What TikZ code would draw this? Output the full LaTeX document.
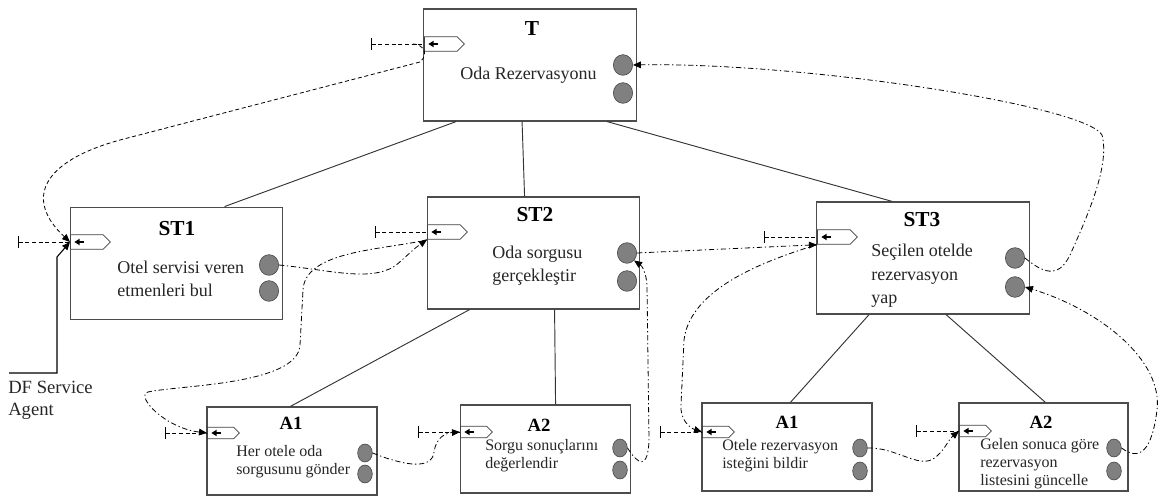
\documentclass[tikz,border=0pt]{standalone}
\usepackage{fontspec}
\setmainfont{Liberation Serif}
\usetikzlibrary{arrows.meta,positioning,shapes.geometric,shapes.symbols,calc}

\begin{document}
\begin{tikzpicture}[x=0.75pt, y=-0.75pt,
  box/.style={draw=black!70, line width=0.9pt, fill=white, inner sep=0pt},
  bigbox/.style={box, minimum width=159.5pt, minimum height=84.5pt},
  smallbox/.style={box, minimum width=127.5pt, minimum height=66pt},
  ttl/.style={font=\fontsize{16}{18}\selectfont\bfseries},
  sttl/.style={font=\fontsize{14}{16}\selectfont\bfseries},
  txt/.style={font=\fontsize{13.5}{17.5}\selectfont, align=left, anchor=west, inner sep=0pt, text=black!85},
  stxt/.style={font=\fontsize{12}{13.5}\selectfont, align=left, anchor=west, inner sep=0pt, text=black!85},
  outp/.style={ellipse, draw=black!75, fill=black!50, minimum width=14.5pt, minimum height=15.5pt, inner sep=0pt},
  soutp/.style={outp, minimum width=11pt, minimum height=13.5pt},
  port/.style={signal, signal to=east, signal from=nowhere, draw=black!75, fill=white, line width=0.6pt,
               minimum width=30pt, minimum height=11pt, inner sep=0pt, anchor=west,
               path picture={
                 \fill[black] ([xshift=3pt]path picture bounding box.west) -- ++(4pt,2.5pt) -- ++(0,-5pt) -- cycle;
                 \fill[black] ([xshift=6.5pt,yshift=-0.9pt]path picture bounding box.west) rectangle ++(4pt,1.8pt);}},
  sport/.style={port, minimum width=24pt, minimum height=8.5pt},
  tree/.style={draw=black!80, line width=0.7pt},
  tick/.style={dash pattern=on 3pt off 2pt, {Bar[width=9pt]}-, line width=0.7pt},
  req/.style={dash pattern=on 3pt off 2pt, line width=0.6pt, -{Triangle[length=6pt,width=5pt]}},
  msg/.style={dash pattern=on 4pt off 2pt on 1pt off 2pt, line width=0.6pt, -{Triangle[length=6pt,width=5pt]}},
  conn/.style={draw=black, line width=0.8pt, -{Triangle[length=6pt,width=5pt]}},
]
\useasboundingbox (0,0) rectangle (1163,498);

% --- Top task: T ---
\node[bigbox, minimum height=84pt] (t) at (530,65) {};
\node[ttl] (tt) at (532,29) {T};
\node[txt] (tx) at (460,75) {Oda Rezervasyonu};
\node[outp] (to1) at (623,65) {};
\node[outp] (to2) at (623,93) {};
\node[port] (tp) at (424,44) {};
\coordinate (tk) at (371,44);

% --- Subtask ST1 ---
\node[bigbox] (st1) at (176.5,263.5) {};
\node[ttl] (st1t) at (177,229) {ST1};
\node[txt] (st1x) at (117,279) {Otel servisi veren\\etmenleri bul};
\node[outp] (st1o1) at (269,265) {};
\node[outp] (st1o2) at (269,291) {};
\node[port] (st1p) at (70,242) {};
\coordinate (st1k) at (18,242);

% --- Subtask ST2 ---
\node[bigbox, minimum height=84pt] (st2) at (533.5,253) {};
\node[ttl] (st2t) at (535,215) {ST2};
\node[txt] (st2x) at (492,266) {Oda sorgusu\\gerçekleştir};
\node[outp] (st2o1) at (627,253) {};
\node[outp] (st2o2) at (627,281) {};
\node[port] (st2p) at (427,232) {};
\coordinate (st2k) at (375,232);

% --- Subtask ST3 ---
\node[bigbox, minimum height=84pt] (st3) at (923,258) {};
\node[ttl] (st3t) at (922,220) {ST3};
\node[txt] (st3x) at (871,276) {Seçilen otelde\\rezervasyon\\yap};
\node[outp] (st3o1) at (1015,258) {};
\node[outp] (st3o2) at (1015,287) {};
\node[port] (st3p) at (817,237) {};
\coordinate (st3k) at (764,237);

% --- Actions of ST2 ---
\node[smallbox] (st2a1) at (292,451) {};
\node[sttl] (st2a1t) at (291,423) {A1};
\node[stxt] (st2a1x) at (236,462) {Her otele oda\\sorgusunu gönder};
\node[soutp] (st2a1o1) at (365,453) {};
\node[soutp] (st2a1o2) at (365,474) {};
\node[sport] (st2a1p) at (207,433) {};
\coordinate (st2a1k) at (165,433);

\node[smallbox, minimum width=128pt, minimum height=66pt] (st2a2) at (545.5,449) {};
\node[sttl] (st2a2t) at (539,425) {A2};
\node[stxt] (st2a2x) at (485,456) {Sorgu sonuçlarını\\değerlendir};
\node[soutp] (st2a2o1) at (620,448) {};
\node[soutp] (st2a2o2) at (620,470) {};
\node[sport] (st2a2p) at (460,432) {};
\coordinate (st2a2k) at (418,432);

% --- Actions of ST3 ---
\node[smallbox] (st3a1) at (787,447) {};
\node[sttl] (st3a1t) at (787,422) {A1};
\node[stxt] (st3a1x) at (722,456) {Otele rezervasyon\\isteğini bildir};
\node[soutp] (st3a1o1) at (860,448) {};
\node[soutp] (st3a1o2) at (860,471) {};
\node[sport] (st3a1p) at (702,432) {};
\coordinate (st3a1k) at (660,432);

\node[smallbox, minimum width=126.75pt] (st3a2) at (1043.5,447) {};
\node[sttl] (st3a2t) at (1041,422) {A2};
\node[stxt] (st3a2x) at (980,464) {Gelen sonuca göre\\rezervasyon\\listesini güncelle};
\node[soutp] (st3a2o1) at (1114,448) {};
\node[soutp] (st3a2o2) at (1114,471) {};
\node[sport] (st3a2p) at (959,431) {};
\coordinate (st3a2k) at (916,431);

% --- Tree edges ---
\draw[tree] ($(t.south west)+(33,0)$) -- ($(st1.north west)+(155,0)$);
\draw[tree] ($(t.south west)+(99,0)$) -- ($(st2.north west)+(98,0)$);
\draw[tree] ($(t.south west)+(184,0)$) -- ($(st3.north west)+(76,0)$);
\draw[tree] ($(st2.south west)+(43,0)$) -- ($(st2a1.north west)+(84,0)$);
\draw[tree] ($(st2.south west)+(128,0)$) -- ($(st2a2.north west)+(96,0)$);
\draw[tree] ($(st3.south west)+(53,0)$) -- ($(st3a1.north west)+(89,0)$);
\draw[tree] ($(st3.south west)+(130,0)$) -- ($(st3a2.north west)+(87,0)$);

% --- DF agent ---
\node[txt, font=\fontsize{14}{16.5}\selectfont, anchor=north west] (df) at (8,381) {DF Service\\Agent};
\draw[conn] ($(df.north west)+(1,-8)$) -| ($(st1p.west)+(-13,15)$) -- (st1p.west);

% --- Ticks into ports ---
\foreach \n in {t,st1,st2,st3,st2a1,st2a2,st3a1,st3a2}
  \draw[tick] (\n k) -- (\n p.west);

% --- Control and message flow ---
\draw[req] ($(tp.west)+(-11,0)$) .. controls (422,44) and (430,53) .. (420,62)
  -- (120,140) .. controls (40,162) and (25,200) .. (st1p.west);
\draw[msg] (st1o1.east) .. controls (330,270) and (370,282) .. (395,266)
  .. controls (405,258) and (412,250) .. (st2p.south west);
\draw[msg] (st2p.south west) .. controls (385,250) and (305,250) .. (303,290)
  -- (300,345) .. controls (298,385) and (180,385) .. (148,392)
  .. controls (135,396) and (165,428) .. (st2a1p.west);
\draw[msg] (st2a1o1.east) .. controls (405,466) and (432,470) .. (434,452)
  .. controls (436,438) and (445,433) .. (st2a2p.west);
\draw[msg] (st2a2o1.east) .. controls (638,465) and (648,470) .. (649,440)
  -- (647,285) .. controls (646,272) and (642,266) .. (st2o1.south east);
\draw[msg] (st2o1.east) -- (st3p.south west);
\draw[msg] (st3p.south west) .. controls (760,262) and (690,290) .. (684,340)
  -- (681,405) .. controls (680,420) and (690,428) .. (st3a1p.west);
\draw[msg] (st3a1o1.east) .. controls (895,447) and (918,468) .. (933,459)
  .. controls (944,452) and (948,440) .. (st3a2p.west);
\draw[msg] (st3a2o1.east) .. controls (1140,462) and (1152,450) .. (1157,410)
  .. controls (1163,360) and (1100,310) .. (st3o2.east);
\draw[msg] (st3o1.east) .. controls (1042,272) and (1058,280) .. (1070,255)
  .. controls (1088,215) and (1110,165) .. (1102,135)
  .. controls (1085,105) and (800,62) .. (to1.east);
\end{tikzpicture}
\end{document}
